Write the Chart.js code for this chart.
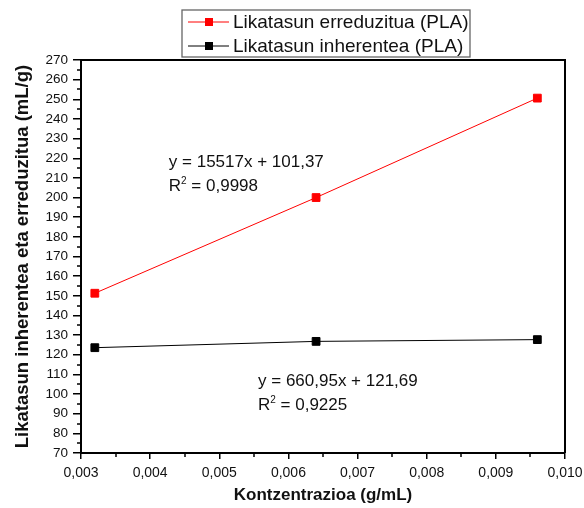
<!DOCTYPE html>
<html>
<head>
<meta charset="utf-8">
<script src="https://cdn.jsdelivr.net/npm/chart.js@4/dist/chart.umd.min.js"></script>
<style>
  html, body { margin: 0; padding: 0; background: #fff; }
  #wrap { width: 584px; height: 508px; }
</style>
</head>
<body>
<div id="wrap"><canvas id="chart-visc" width="584" height="508"></canvas></div>
<script>
// --- datuak ---
const concentration = [0.0032, 0.0064, 0.0096];
const reducedVisc = [151.3, 200.0, 250.6];
const inherentVisc = [123.6, 126.8, 127.7];
const seriesNames = ['Likatasun erreduzitua (PLA)', 'Likatasun inherentea (PLA)'];
const seriesColors = ['#ff0000', '#000000'];
const xTickValues = [0.003, 0.004, 0.005, 0.006, 0.007, 0.008, 0.009, 0.010];
const yTickValues = [70, 80, 90, 100, 110, 120, 130, 140, 150, 160, 170, 180, 190, 200, 210, 220, 230, 240, 250, 260, 270];
const fitEquations = ['y = 15517x + 101,37', 'y = 660,95x + 121,69'];
const fitR2 = ['0,9998', '0,9225'];
// where each fit label sits, in data units (x, baseline y)
const fitAnchors = [[0.00427, 215.5], [0.00556, 104.1]];

const FONT = '"Liberation Sans", Arial, sans-serif';

// top/right frame, minor ticks, legend box and fit labels
const extras = {
  id: 'extras',
  afterDraw(chart) {
    const { ctx, chartArea: a, scales } = chart;
    const xs = scales.x, ys = scales.y;
    ctx.save();

    // frame
    ctx.strokeStyle = '#000';
    ctx.lineWidth = 2;
    ctx.beginPath();
    ctx.moveTo(a.left, a.top);
    ctx.lineTo(a.right, a.top);
    ctx.lineTo(a.right, a.bottom);
    ctx.stroke();

    // minor ticks
    ctx.lineWidth = 1.5;
    ctx.beginPath();
    for (let i = 0; i < yTickValues.length - 1; i++) {
      const py = Math.round(ys.getPixelForValue((yTickValues[i] + yTickValues[i + 1]) / 2));
      ctx.moveTo(a.left - 4, py);
      ctx.lineTo(a.left, py);
    }
    for (let i = 0; i < xTickValues.length - 1; i++) {
      const px = Math.round(xs.getPixelForValue((xTickValues[i] + xTickValues[i + 1]) / 2));
      ctx.moveTo(px, a.bottom);
      ctx.lineTo(px, a.bottom + 4);
    }
    ctx.stroke();

    // legend
    ctx.strokeStyle = '#666';
    ctx.lineWidth = 1.3;
    ctx.strokeRect(182, 10, 288, 47);
    ctx.font = '19px ' + FONT;
    ctx.textBaseline = 'middle';
    ctx.textAlign = 'left';
    seriesNames.forEach((name, i) => {
      const ly = 22 + i * 24;
      ctx.strokeStyle = seriesColors[i];
      ctx.lineWidth = 1;
      ctx.beginPath();
      ctx.moveTo(188, ly);
      ctx.lineTo(229, ly);
      ctx.stroke();
      ctx.fillStyle = seriesColors[i];
      ctx.fillRect(205, ly - 4, 8, 8);
      ctx.fillStyle = '#111';
      ctx.fillText(name, 233, ly + 1);
    });

    // fit labels
    ctx.fillStyle = '#111';
    ctx.textBaseline = 'alphabetic';
    fitEquations.forEach((eq, i) => {
      const px = xs.getPixelForValue(fitAnchors[i][0]);
      const py = ys.getPixelForValue(fitAnchors[i][1]);
      ctx.font = '17px ' + FONT;
      ctx.fillText(eq, px, py);
      const py2 = py + 24;
      ctx.fillText('R', px, py2);
      let cx = px + ctx.measureText('R').width;
      ctx.font = '10px ' + FONT;
      ctx.fillText('2', cx, py2 - 7);
      cx += ctx.measureText('2').width;
      ctx.font = '17px ' + FONT;
      ctx.fillText(' = ' + fitR2[i], cx, py2);
    });

    ctx.restore();
  }
};

const toPoints = (ys) => concentration.map((x, i) => ({ x: x, y: ys[i] }));

new Chart(document.getElementById('chart-visc'), {
  type: 'scatter',
  data: {
    datasets: [
      {
        label: seriesNames[0],
        data: toPoints(reducedVisc),
        showLine: true,
        borderColor: seriesColors[0],
        backgroundColor: seriesColors[0],
        borderWidth: 1,
        pointStyle: 'rect',
        pointRadius: 5.5,
        pointBorderWidth: 1
      },
      {
        label: seriesNames[1],
        data: toPoints(inherentVisc),
        showLine: true,
        borderColor: seriesColors[1],
        backgroundColor: seriesColors[1],
        borderWidth: 1,
        pointStyle: 'rect',
        pointRadius: 5.5,
        pointBorderWidth: 1
      }
    ]
  },
  options: {
    responsive: false,
    animation: false,
    devicePixelRatio: 1,
    layout: { padding: { top: 60, right: 19, left: 0, bottom: 0 } },
    plugins: {
      legend: { display: false },
      tooltip: { enabled: false }
    },
    scales: {
      x: {
        type: 'linear',
        position: 'bottom',
        min: 0.003,
        max: 0.010,
        afterBuildTicks: (s) => { s.ticks = xTickValues.map(v => ({ value: v })); },
        afterFit: (s) => { s.height = 55; s.paddingLeft = 0; s.paddingRight = 0; },
        ticks: {
          color: '#111',
          padding: 6,
          maxRotation: 0,
          font: { family: FONT, size: 14 },
          callback: (v) => v.toFixed(3).replace('.', ',')
        },
        grid: { drawOnChartArea: false, drawTicks: true, tickLength: 6, color: '#000', lineWidth: 1.5 },
        border: { display: true, color: '#000', width: 2 },
        title: {
          display: true,
          text: 'Kontzentrazioa (g/mL)',
          color: '#111',
          font: { family: FONT, size: 17, weight: 'bold' },
          padding: { top: 0, bottom: 2 }
        }
      },
      y: {
        type: 'linear',
        min: 70,
        max: 270,
        afterBuildTicks: (s) => { s.ticks = yTickValues.map(v => ({ value: v })); },
        afterFit: (s) => { s.width = 81; },
        ticks: {
          color: '#111',
          padding: 5,
          font: { family: FONT, size: 13.5 }
        },
        grid: { drawOnChartArea: false, drawTicks: true, tickLength: 8, color: '#000', lineWidth: 1.5 },
        border: { display: true, color: '#000', width: 2 },
        title: {
          display: true,
          text: 'Likatasun inherentea eta erreduzitua (mL/g)',
          color: '#111',
          font: { family: FONT, size: 18.5, weight: 'bold' },
          padding: { top: 12, bottom: 0 }
        }
      }
    }
  },
  plugins: [extras]
});
</script>
</body>
</html>
